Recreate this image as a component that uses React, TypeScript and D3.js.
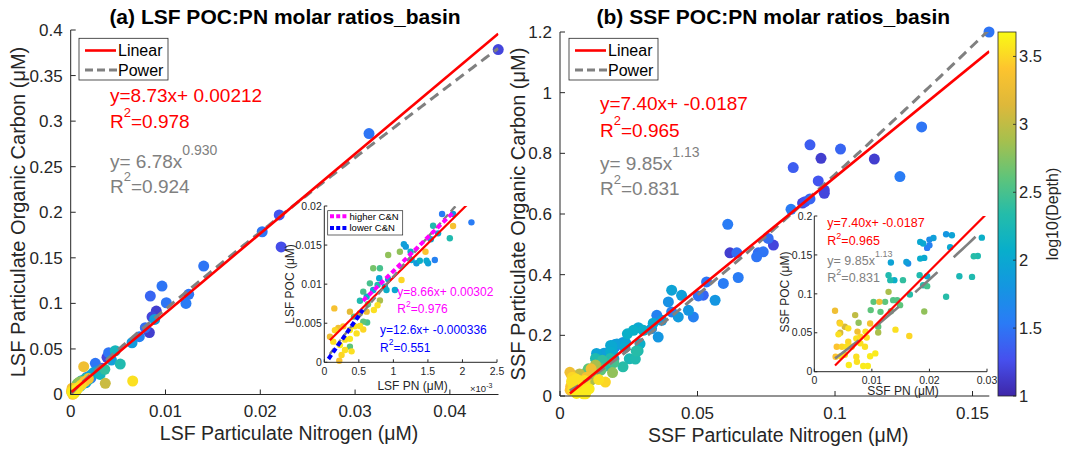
import React from "react";
import * as d3 from "d3";

type P = [number, number, number]; // [PN, POC, log10(depth)]

// ---------- LSF data (µM) ----------
const lsfOuter: P[] = [
  [0.0451, 0.3785, 1.2], [0.03147, 0.2864, 1.5], [0.022, 0.197, 1.3], [0.0202, 0.1786, 1.5],
  [0.0222, 0.162, 1.25], [0.01403, 0.1409, 1.5], [0.00963, 0.119, 1.5], [0.0084, 0.108, 1.4],
  [0.01009, 0.1007, 1.5], [0.01245, 0.1099, 1.5], [0.01216, 0.1, 1.55], [0.00903, 0.0916, 1.15],
  [0.00858, 0.0853, 1.2], [0.00886, 0.0824, 1.9], [0.00787, 0.0733, 1.45], [0.0083, 0.068, 1.15],
  [0.00724, 0.0634, 1.6], [0.00647, 0.0568, 1.85], [0.004, 0.0459, 1.5], [0.0047, 0.048, 2.2],
  [0.00523, 0.0334, 2.3], [0.00383, 0.0408, 1.2], [0.0043, 0.0378, 1.9], [0.0026, 0.0342, 1.5],
  [0.00137, 0.0305, 3.3], [0.00365, 0.0123, 3.05], [0.00654, 0.0148, 3.55], [0.0033, 0.0287, 1.3],
  [0.0036, 0.0276, 2.4], [0.0028, 0.026, 1.8], [0.0024, 0.024, 2.0], [0.0031, 0.022, 2.2],
  [0.0021, 0.021, 1.9], [0.003, 0.0255, 1.3],
];
const lsfInner: P[] = [
  [0.001705, 0.01898, 1.55], [0.001864, 0.01898, 1.8], [0.00213, 0.01791, 1.55], [0.001575, 0.01748, 2.3],
  [0.001864, 0.01744, 3.35], [0.001817, 0.01587, 2.3], [0.001647, 0.0165, 2.0], [0.001542, 0.01574, 2.0],
  [0.001152, 0.0151, 1.9], [0.00118, 0.0148, 1.85], [0.001094, 0.01415, 2.8], [0.001249, 0.01415, 2.1],
  [0.001263, 0.01309, 2.0], [0.001383, 0.013, 2.1], [0.001465, 0.01415, 3.4], [0.00148, 0.013, 2.0],
  [0.0016, 0.01309, 1.6], [0.001503, 0.01267, 1.9], [0.001334, 0.01267, 1.85], [0.000925, 0.01373, 2.8],
  [0.000708, 0.01203, 2.7], [0.000805, 0.01203, 2.5], [0.001118, 0.01053, 3.5], [0.000795, 0.01075, 2.0],
  [0.000925, 0.01062, 2.0], [0.000877, 0.00968, 2.0], [0.000771, 0.0099, 2.3], [0.001022, 0.00925, 2.0],
  [0.0009, 0.00925, 2.1], [0.00066, 0.0101, 2.5], [0.000564, 0.00904, 2.5], [0.000613, 0.0084, 2.1],
  [0.000708, 0.00925, 2.0], [0.000516, 0.00788, 2.3], [0.000632, 0.00742, 2.6], [0.000771, 0.0073, 3.55],
  [0.000805, 0.0079, 2.9], [0.000718, 0.00669, 3.55], [0.000613, 0.00648, 3.3], [0.000516, 0.00627, 3.0],
  [0.000371, 0.00648, 3.2], [0.000145, 0.0069, 3.35], [0.00043, 0.00584, 2.6], [0.000564, 0.0052, 2.6],
  [0.00062, 0.0051, 2.5], [0.000516, 0.00465, 3.55], [0.000443, 0.0046, 3.55], [0.000371, 0.00413, 3.6],
  [0.000275, 0.0046, 3.4], [0.000203, 0.0044, 3.3], [0.000082, 0.00328, 3.3], [0.00013, 0.00264, 3.55],
  [0.0003, 0.0029, 3.55], [0.000227, 0.0022, 3.6], [0.000371, 0.002, 2.6], [0.0003, 0.00157, 3.55],
  [0.000395, 0.0014, 3.55], [0.00025, 0.00093, 3.5], [0.000217, 0.0002, 3.4], [0.000371, 0.003, 3.6],
  [0.000468, 0.0037, 3.55], [0.000564, 0.0042, 3.5], [0.000154, 0.0041, 3.5],
];

// ---------- SSF data (µM) ----------
const ssfOuter: P[] = [
  [0.156, 1.2, 1.5], [0.1315, 0.887, 1.5], [0.1236, 0.7233, 1.55], [0.1143, 0.781, 1.15],
  [0.102, 0.814, 1.4], [0.0909, 0.828, 1.35], [0.0848, 0.753, 1.35], [0.0949, 0.7835, 1.15],
  [0.0939, 0.709, 1.3], [0.0961, 0.679, 1.2], [0.0961, 0.668, 1.2], [0.0909, 0.6496, 1.4],
  [0.0891, 0.6407, 1.3], [0.0882, 0.636, 1.2], [0.084, 0.6155, 1.55], [0.061, 0.566, 1.55],
  [0.0618, 0.472, 1.15], [0.0643, 0.472, 1.45], [0.0721, 0.472, 1.45], [0.0739, 0.4755, 1.5],
  [0.0715, 0.459, 1.5], [0.0757, 0.5196, 1.45], [0.0776, 0.4975, 1.2], [0.0648, 0.3907, 1.55],
  [0.0594, 0.371, 1.55], [0.0564, 0.3157, 1.8], [0.0533, 0.3762, 1.5], [0.0521, 0.3322, 1.4],
  [0.0503, 0.33, 1.5], [0.0485, 0.2605, 1.6], [0.0406, 0.3488, 1.95], [0.0394, 0.31, 1.75],
  [0.0442, 0.332, 1.9], [0.0467, 0.2826, 1.8], [0.043, 0.2605, 1.85], [0.0406, 0.277, 1.6],
  [0.0352, 0.266, 1.6], [0.037, 0.2496, 1.85], [0.0333, 0.222, 1.75], [0.0357, 0.1944, 1.8],
  [0.0339, 0.24, 2.0], [0.0303, 0.2165, 2.1], [0.0267, 0.2165, 2.1], [0.0245, 0.205, 2.1],
  [0.0285, 0.225, 2.0],
];
const ssfInner: P[] = [
  [0.0229, 0.1765, 1.8], [0.0239, 0.1752, 1.95], [0.0207, 0.1718, 1.9], [0.02, 0.1697, 1.7],
  [0.0184, 0.1667, 2.0], [0.0189, 0.1646, 2.0], [0.0196, 0.159, 1.55], [0.02, 0.1624, 1.6],
  [0.0236, 0.16, 2.0], [0.0291, 0.1722, 2.1], [0.0284, 0.1487, 2.3], [0.0277, 0.1483, 2.35],
  [0.0191, 0.1462, 2.0], [0.0184, 0.1453, 2.05], [0.0133, 0.1402, 1.95], [0.0163, 0.139, 1.7],
  [0.016, 0.141, 1.9], [0.0252, 0.1227, 2.25], [0.0274, 0.1218, 2.3], [0.0183, 0.124, 2.3],
  [0.0196, 0.1227, 2.0], [0.0189, 0.1111, 2.35], [0.0196, 0.1099, 2.5], [0.0129, 0.124, 2.3],
  [0.0132, 0.1176, 2.3], [0.0139, 0.1176, 2.1], [0.0154, 0.1176, 2.4], [0.0129, 0.1026, 2.9],
  [0.0166, 0.0992, 2.35], [0.0229, 0.0962, 2.35], [0.0103, 0.0897, 2.6], [0.0113, 0.0897, 3.3],
  [0.0123, 0.0897, 2.6], [0.0098, 0.0791, 2.6], [0.0115, 0.0769, 2.6], [0.0133, 0.0778, 2.6],
  [0.0137, 0.0919, 2.55], [0.0144, 0.0919, 2.55], [0.0149, 0.0855, 2.6], [0.0191, 0.0773, 2.8],
  [0.0036, 0.0782, 3.3], [0.0071, 0.0727, 3.0], [0.0077, 0.0628, 2.8], [0.0044, 0.0628, 3.3],
  [0.0045, 0.062, 3.5], [0.0053, 0.0577, 3.1], [0.0059, 0.0557, 3.55], [0.0097, 0.062, 3.35],
  [0.0111, 0.0577, 2.6], [0.0111, 0.0504, 2.9], [0.0141, 0.054, 3.55], [0.0165, 0.0458, 3.5],
  [0.0045, 0.05, 3.1], [0.0075, 0.0515, 3.3], [0.0089, 0.0515, 3.55], [0.0073, 0.0428, 3.55],
  [0.008, 0.0449, 3.5], [0.0091, 0.044, 3.55], [0.0059, 0.0385, 3.5], [0.008, 0.0364, 3.55],
  [0.0039, 0.032, 3.4], [0.0048, 0.032, 3.5], [0.0056, 0.032, 3.55], [0.0065, 0.032, 3.5],
  [0.0088, 0.032, 3.55], [0.0037, 0.0192, 3.4], [0.0046, 0.02, 3.55], [0.0053, 0.0218, 3.5],
  [0.0073, 0.0192, 3.55], [0.0097, 0.0198, 3.6], [0.0106, 0.0235, 3.6], [0.006, 0.0086, 3.6],
  [0.0074, 0.0128, 3.55], [0.0085, 0.0073, 3.6], [0.0093, 0.0073, 3.6], [0.0042, 0.048, 3.55],
];

// ---------- fits ----------
const lsfLinear = [8.73, 0.00212];
const lsfPower = [6.78, 0.93];
const lsfHigher = [8.66, 0.00302];
const lsfLower = [12.6, -0.000336];
const ssfLinear = [7.4, -0.0187];
const ssfPower = [9.85, 1.13];
const lsfFitX = [0.00008, 0.0451];
const ssfFitX = [0.0036, 0.1561];
const lsfHigherX = [0.00056, 0.00187];
const lsfLowerX = [0.00006, 0.00056];

// ---------- ticks ----------
const aXTicks = [0, 0.01, 0.02, 0.03, 0.04];
const aXLabels = ["0", "0.01", "0.02", "0.03", "0.04"];
const aYTicks = [0, 0.05, 0.1, 0.15, 0.2, 0.25, 0.3, 0.35, 0.4];
const aYLabels = ["0", "0.05", "0.1", "0.15", "0.2", "0.25", "0.3", "0.35", "0.4"];
const bXTicks = [0, 0.05, 0.1, 0.15];
const bXLabels = ["0", "0.05", "0.1", "0.15"];
const bYTicks = [0, 0.2, 0.4, 0.6, 0.8, 1, 1.2];
const bYLabels = ["0", "0.2", "0.4", "0.6", "0.8", "1", "1.2"];
const aiXTicks = [0, 0.0005, 0.001, 0.0015, 0.002, 0.0025];
const aiXLabels = ["0", "0.5", "1", "1.5", "2", "2.5"];
const aiYTicks = [0, 0.005, 0.01, 0.015, 0.02];
const aiYLabels = ["0", "0.005", "0.01", "0.015", "0.02"];
const biXTicks = [0, 0.01, 0.02, 0.03];
const biXLabels = ["0", "0.01", "0.02", "0.03"];
const biYTicks = [0, 0.05, 0.1, 0.15, 0.2];
const biYLabels = ["0", "0.05", "0.1", "0.15", "0.2"];
const cbTicks = [1, 1.5, 2, 2.5, 3, 3.5];
const cbLabels = ["1", "1.5", "2", "2.5", "3", "3.5"];
const depthDomain = [1, 3.68];

// parula-like colormap stops
const PARULA = [
  [62, 38, 168], [70, 80, 238], [42, 123, 246], [20, 150, 225], [8, 174, 203], [36, 188, 170],
  [95, 196, 122], [165, 192, 78], [222, 184, 58], [253, 196, 46], [249, 251, 20],
];
function parula(t: number) {
  t = Math.max(0, Math.min(1, t));
  const s = t * (PARULA.length - 1);
  const i = Math.min(PARULA.length - 2, Math.floor(s));
  const f = s - i;
  const a = PARULA[i], b = PARULA[i + 1];
  return `rgb(${Math.round(a[0] + (b[0] - a[0]) * f)},${Math.round(a[1] + (b[1] - a[1]) * f)},${Math.round(a[2] + (b[2] - a[2]) * f)})`;
}
const cNorm = d3.scaleLinear().domain(depthDomain).range([0, 1]).clamp(true);
const colorOf = (d: number) => parula(cNorm(d));

const FONT = "'Liberation Sans', Arial, Helvetica, sans-serif";
const AX = "#262626";
const RED = "#ff0000";
const GRAY = "#808080";

type Sc = d3.ScaleLinear<number, number>;

function Axes(props: {
  x: Sc; y: Sc; xt: number[]; xl: string[]; yt: number[]; yl: string[];
  fs: number; tick: number; ygap: number; xbase: number;
}) {
  const { x, y, xt, xl, yt, yl, fs, tick, ygap, xbase } = props;
  const [x0, x1] = x.range();
  const [y0, y1] = y.range();
  return (
    <g fontFamily={FONT} fill={AX}>
      <line x1={x0} x2={x1} y1={y0} y2={y0} stroke={AX} strokeWidth={1} />
      <line x1={x0} x2={x0} y1={y0} y2={y1} stroke={AX} strokeWidth={1} />
      {xt.map((v, i) => (
        <g key={"x" + i}>
          <line x1={x(v)} x2={x(v)} y1={y0} y2={y0 - tick} stroke={AX} strokeWidth={1} />
          <text x={x(v)} y={y0 + xbase} textAnchor="middle" fontSize={fs}>{xl[i]}</text>
        </g>
      ))}
      {yt.map((v, i) => (
        <g key={"y" + i}>
          <line x1={x0} x2={x0 + tick} y1={y(v)} y2={y(v)} stroke={AX} strokeWidth={1} />
          <text x={x0 - ygap} y={y(v)} dy="0.35em" textAnchor="end" fontSize={fs}>{yl[i]}</text>
        </g>
      ))}
    </g>
  );
}

function Dots(props: { pts: P[]; x: Sc; y: Sc; r: number }) {
  const { pts, x, y, r } = props;
  const [dx0, dx1] = x.domain();
  const [dy0, dy1] = y.domain();
  const vis = pts
    .filter((p) => p[0] >= dx0 && p[0] <= dx1 && p[1] >= dy0 && p[1] <= dy1)
    .slice()
    .sort((a, b) => a[2] - b[2]);
  return (
    <g>
      {vis.map((p, i) => (
        <circle key={i} cx={x(p[0])} cy={y(p[1])} r={r} fill={colorOf(p[2])} />
      ))}
    </g>
  );
}

function linPath(x: Sc, y: Sc, c: number[], xr: number[]) {
  const g = d3.line<number>().x((v) => x(v)).y((v) => y(c[0] * v + c[1]));
  return g([xr[0], xr[1]]) || "";
}
function powPath(x: Sc, y: Sc, c: number[], xr: number[]) {
  const xs = d3.range(0, 201).map((i) => xr[0] + ((xr[1] - xr[0]) * i) / 200);
  const g = d3.line<number>().x((v) => x(v)).y((v) => y(c[0] * Math.pow(v, c[1])));
  return g(xs) || "";
}

function Sup(props: { x: number; y: number; base: string; sup: string; rest: string; fs: number; sfs: number; rise: number; fill: string }) {
  const { x, y, base, sup, rest, fs, sfs, rise, fill } = props;
  return (
    <text x={x} y={y} fontSize={fs} fill={fill} fontFamily={FONT}>
      {base}
      <tspan dy={-rise} fontSize={sfs}>{sup}</tspan>
      {rest ? <tspan dy={rise}>{rest}</tspan> : null}
    </text>
  );
}

function Legend(props: { ox: number }) {
  const { ox } = props;
  return (
    <g fontFamily={FONT}>
      <rect x={79 + ox} y={38.3} width={89} height={41.7} fill="#fff" stroke={AX} strokeWidth={0.8} />
      <line x1={85 + ox} x2={116 + ox} y1={50.5} y2={50.5} stroke={RED} strokeWidth={2.6} />
      <text x={118 + ox} y={56} fontSize={16} fill="#000">Linear</text>
      <line x1={85 + ox} x2={117 + ox} y1={70} y2={70} stroke={GRAY} strokeWidth={3} strokeDasharray="8 4" />
      <text x={118 + ox} y={75.7} fontSize={16} fill="#000">Power</text>
    </g>
  );
}

export default function App() {
  // panel (a)
  const ax = d3.scaleLinear().domain([0, 0.04513]).range([70.7, 498.5]);
  const ay = d3.scaleLinear().domain([0, 0.4]).range([394.5, 30]);
  const aix = d3.scaleLinear().domain([0, 0.0025]).range([324.3, 497]);
  const aiy = d3.scaleLinear().domain([0, 0.02]).range([362.3, 206]);
  // panel (b)
  const bx = d3.scaleLinear().domain([0, 0.1561]).range([560, 989.3]);
  const by = d3.scaleLinear().domain([0, 1.2]).range([396, 32]);
  const bix = d3.scaleLinear().domain([0, 0.03]).range([814.3, 987]);
  const biy = d3.scaleLinear().domain([0, 0.2]).range([371.7, 216]);
  // colorbar
  const cy = d3.scaleLinear().domain(depthDomain).range([396, 32]);

  const lsfAll = [...lsfOuter, ...lsfInner];
  const ssfAll = [...ssfOuter, ...ssfInner];

  const gradStops = d3.range(0, 41).map((i) => i / 40);
  const MR = 5.5; // main marker radius
  const IR = 3.2; // inset marker radius

  return (
    <svg width={1065} height={449} style={{ position: "absolute", left: 0, top: 0, background: "#fff" }}>
      <defs>
        <clipPath id="clipA"><rect x={70.7} y={30} width={427.8} height={364.5} /></clipPath>
        <clipPath id="clipB"><rect x={560} y={32} width={429.3} height={364} /></clipPath>
        <clipPath id="clipAi"><rect x={324.3} y={206} width={172.7} height={156.3} /></clipPath>
        <clipPath id="clipBi"><rect x={814.3} y={216} width={172.7} height={155.7} /></clipPath>
        <linearGradient id="parulaGrad" x1="0" y1="1" x2="0" y2="0">
          {gradStops.map((t, i) => (
            <stop key={i} offset={t} stopColor={parula(t)} />
          ))}
        </linearGradient>
      </defs>
      <rect x={0} y={0} width={1065} height={449} fill="#fff" />

      {/* ============ Panel (a) ============ */}
      <text x={285} y={24} textAnchor="middle" fontFamily={FONT} fontWeight="bold" fontSize={21} fill="#000">
        (a) LSF POC:PN molar ratios_basin
      </text>
      <Dots pts={lsfAll} x={ax} y={ay} r={MR} />
      <g clipPath="url(#clipA)">
        <path d={powPath(ax, ay, lsfPower, lsfFitX)} fill="none" stroke={GRAY} strokeWidth={3} strokeDasharray="10 6" />
        <path d={linPath(ax, ay, lsfLinear, lsfFitX)} fill="none" stroke={RED} strokeWidth={2.6} />
      </g>
      <Axes x={ax} y={ay} xt={aXTicks} xl={aXLabels} yt={aYTicks} yl={aYLabels} fs={17} tick={5} ygap={8} xbase={22.5} />
      <text x={289} y={440} textAnchor="middle" fontFamily={FONT} fontSize={19.5} fill={AX}>LSF Particulate Nitrogen (μM)</text>
      <text transform="translate(25,212) rotate(-90)" textAnchor="middle" fontFamily={FONT} fontSize={20} fill={AX}>
        LSF Particulate Organic Carbon (μM)
      </text>
      <Legend ox={0} />
      <text x={110} y={101.7} fontFamily={FONT} fontSize={19} fill={RED}>y=8.73x+ 0.00212</text>
      <Sup x={110} y={128.3} base="R" sup="2" rest="=0.978" fs={19} sfs={13} rise={11.5} fill={RED} />
      <Sup x={110} y={168.3} base="y= 6.78x" sup="0.930" rest="" fs={19} sfs={14} rise={13} fill={GRAY} />
      <Sup x={110} y={192.7} base="R" sup="2" rest="=0.924" fs={19} sfs={13} rise={11.5} fill={GRAY} />

      {/* inset (a) */}
      <rect x={324.3} y={206} width={172.7} height={156.3} fill="#fff" />
      <Dots pts={lsfAll} x={aix} y={aiy} r={IR} />
      <g clipPath="url(#clipAi)">
        <path d={linPath(aix, aiy, lsfLinear, lsfFitX)} fill="none" stroke={RED} strokeWidth={2.2} />
        <path d={powPath(aix, aiy, lsfPower, lsfFitX)} fill="none" stroke={GRAY} strokeWidth={2.4} strokeDasharray="7 4" />
        <path d={linPath(aix, aiy, lsfHigher, lsfHigherX)} fill="none" stroke="#ff00ff" strokeWidth={4} strokeDasharray="5 3" />
        <path d={linPath(aix, aiy, lsfLower, lsfLowerX)} fill="none" stroke="#0000ff" strokeWidth={4} strokeDasharray="5 3" />
      </g>
      <Axes x={aix} y={aiy} xt={aiXTicks} xl={aiXLabels} yt={aiYTicks} yl={aiYLabels} fs={10.5} tick={3} ygap={2.5} xbase={13} />
      <text x={470} y={391.5} fontFamily={FONT} fontSize={9.5} fill={AX}>
        ×10<tspan dy={-4} fontSize={7}>-3</tspan>
      </text>
      <text x={412.5} y={390} textAnchor="middle" fontFamily={FONT} fontSize={12} fill={AX}>LSF PN (μM)</text>
      <text transform="translate(294,284) rotate(-90)" textAnchor="middle" fontFamily={FONT} fontSize={12} fill={AX}>
        LSF POC (μM)
      </text>
      <g fontFamily={FONT}>
        <rect x={327.7} y={210.7} width={75} height={24.3} fill="#fff" stroke={AX} strokeWidth={0.7} />
        <line x1={330} x2={348.3} y1={216.3} y2={216.3} stroke="#ff00ff" strokeWidth={4} strokeDasharray="4 2.2" />
        <text x={349.5} y={219.6} fontSize={9.5} fill="#000">higher C&amp;N</text>
        <line x1={330} x2={348.3} y1={228} y2={228} stroke="#0000ff" strokeWidth={4} strokeDasharray="4 2.2" />
        <text x={349.5} y={231.3} fontSize={9.5} fill="#000">lower C&amp;N</text>
      </g>
      <text x={397.3} y={296} fontFamily={FONT} fontSize={12} fill="#ff00ff">y=8.66x+ 0.00302</text>
      <Sup x={397.3} y={313.3} base="R" sup="2" rest="=0.976" fs={12} sfs={8.5} rise={6.5} fill="#ff00ff" />
      <text x={380} y={334} fontFamily={FONT} fontSize={12} fill="#0000ff">y=12.6x+ -0.000336</text>
      <Sup x={380} y={351.7} base="R" sup="2" rest="=0.551" fs={12} sfs={8.5} rise={6.5} fill="#0000ff" />

      {/* ============ Panel (b) ============ */}
      <text x={773.3} y={24} textAnchor="middle" fontFamily={FONT} fontWeight="bold" fontSize={21} fill="#000">
        (b) SSF POC:PN molar ratios_basin
      </text>
      <Dots pts={ssfAll} x={bx} y={by} r={MR} />
      <g clipPath="url(#clipB)">
        <path d={powPath(bx, by, ssfPower, ssfFitX)} fill="none" stroke={GRAY} strokeWidth={3} strokeDasharray="10 6" />
        <path d={linPath(bx, by, ssfLinear, ssfFitX)} fill="none" stroke={RED} strokeWidth={2.6} />
      </g>
      <Axes x={bx} y={by} xt={bXTicks} xl={bXLabels} yt={bYTicks} yl={bYLabels} fs={17} tick={5} ygap={8} xbase={22.5} />
      <text x={778.3} y={441.5} textAnchor="middle" fontFamily={FONT} fontSize={19.5} fill={AX}>SSF Particulate Nitrogen (μM)</text>
      <text transform="translate(525,214) rotate(-90)" textAnchor="middle" fontFamily={FONT} fontSize={20} fill={AX}>
        SSF Particulate Organic Carbon (μM)
      </text>
      <Legend ox={490} />
      <text x={600} y={110} fontFamily={FONT} fontSize={19} fill={RED}>y=7.40x+ -0.0187</text>
      <Sup x={600} y={136.7} base="R" sup="2" rest="=0.965" fs={19} sfs={13} rise={11.5} fill={RED} />
      <Sup x={600} y={170} base="y= 9.85x" sup="1.13" rest="" fs={19} sfs={14} rise={13} fill={GRAY} />
      <Sup x={600} y={195} base="R" sup="2" rest="=0.831" fs={19} sfs={13} rise={11.5} fill={GRAY} />

      {/* inset (b) */}
      <rect x={814.3} y={216} width={172.7} height={155.7} fill="#fff" />
      <Dots pts={ssfAll} x={bix} y={biy} r={IR} />
      <g clipPath="url(#clipBi)">
        <path d={powPath(bix, biy, ssfPower, ssfFitX)} fill="none" stroke={GRAY} strokeWidth={2.6} strokeDasharray="30 22" />
        <path d={linPath(bix, biy, ssfLinear, ssfFitX)} fill="none" stroke={RED} strokeWidth={2.2} />
      </g>
      <Axes x={bix} y={biy} xt={biXTicks} xl={biXLabels} yt={biYTicks} yl={biYLabels} fs={10.5} tick={3} ygap={2} xbase={12.5} />
      <text x={903} y={394.5} textAnchor="middle" fontFamily={FONT} fontSize={12} fill={AX}>SSF PN (μM)</text>
      <text transform="translate(789,292) rotate(-90)" textAnchor="middle" fontFamily={FONT} fontSize={12} fill={AX}>
        SSF POC (μM)
      </text>
      <text x={827.3} y={227.3} fontFamily={FONT} fontSize={12.5} fill={RED}>y=7.40x+ -0.0187</text>
      <Sup x={827.3} y={245} base="R" sup="2" rest="=0.965" fs={12.5} sfs={9} rise={6.5} fill={RED} />
      <Sup x={827.3} y={265} base="y= 9.85x" sup="1.13" rest="" fs={12.5} sfs={9} rise={8} fill={GRAY} />
      <Sup x={827.3} y={281.7} base="R" sup="2" rest="=0.831" fs={12.5} sfs={9} rise={6.5} fill={GRAY} />

      {/* ============ Colorbar ============ */}
      <rect x={998} y={32} width={18} height={364} fill="url(#parulaGrad)" stroke={AX} strokeWidth={0.8} />
      {cbTicks.map((v, i) => (
        <g key={i}>
          <line x1={1016} x2={1013} y1={cy(v)} y2={cy(v)} stroke={AX} strokeWidth={0.8} />
          <text x={1019} y={cy(v)} dy="0.35em" fontFamily={FONT} fontSize={16.5} fill={AX}>{cbLabels[i]}</text>
        </g>
      ))}
      <text transform="translate(1058,214) rotate(-90)" textAnchor="middle" fontFamily={FONT} fontSize={16} fill={AX}>
        log10(Depth)
      </text>
    </svg>
  );
}
